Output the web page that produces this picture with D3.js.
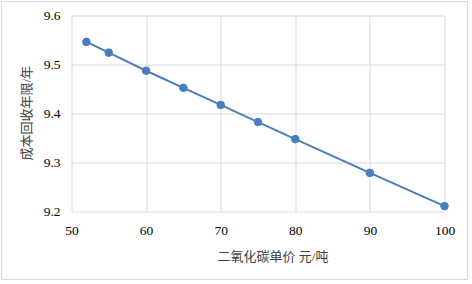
<!DOCTYPE html>
<html>
<head>
<meta charset="utf-8">
<script src="https://cdn.jsdelivr.net/npm/d3@7"></script>
<style>
  body { margin: 0; background: #fff; }
  svg { display: block; }
  svg text { font-family: "Liberation Serif", "Noto Sans CJK SC", serif; }
</style>
</head>
<body>
<svg id="chart" width="472" height="284"></svg>
<script>
// carbon price (元/吨) vs payback period (年)
const prices   = [52, 55, 60, 65, 70, 75, 80, 90, 100];
const payback  = [9.546, 9.524, 9.487, 9.452, 9.417, 9.382, 9.347, 9.278, 9.210];
const xTicks   = [50, 60, 70, 80, 90, 100];
const yTicks   = [9.2, 9.3, 9.4, 9.5, 9.6];
const xTitle   = '二氧化碳单价 元/吨';
const yTitle   = '成本回收年限/年';

const W = 472, H = 284;
const Mg = { top: 15.5, right: 27.5, bottom: 73, left: 71.5 };
const w = W - Mg.left - Mg.right, h = H - Mg.top - Mg.bottom;
const grid = '#d9d9d9', blue = '#4a7ebb', txt = '#404040';

const root = d3.select('#chart');
root.append('rect').attr('x', 1.5).attr('y', 1.5).attr('width', 466).attr('height', 278)
  .attr('fill', '#fff').attr('stroke', '#d9d9d9');

const svg = root.append('g').attr('transform', `translate(${Mg.left},${Mg.top})`);

const x = d3.scaleLinear().domain([50, 100]).range([0, w]);
const y = d3.scaleLinear().domain([9.2, 9.6]).range([h, 0]);

// gridlines
svg.append('g').selectAll('line').data(xTicks).join('line')
  .attr('x1', d => Math.round(x(d)) + .5).attr('x2', d => Math.round(x(d)) + .5)
  .attr('y1', 0).attr('y2', h).attr('stroke', grid).attr('stroke-width', 1);
svg.append('g').selectAll('line').data(yTicks).join('line')
  .attr('x1', 0).attr('x2', w)
  .attr('y1', d => Math.round(y(d)) + .5).attr('y2', d => Math.round(y(d)) + .5)
  .attr('stroke', grid).attr('stroke-width', 1);

// axes (labels only)
const xAxis = svg.append('g').attr('transform', `translate(0,${h})`)
  .call(d3.axisBottom(x).tickValues(xTicks).tickSize(0).tickPadding(14).tickFormat(d3.format('d')));
const yAxis = svg.append('g')
  .call(d3.axisLeft(y).tickValues(yTicks).tickSize(0).tickPadding(11).tickFormat(d3.format('.1f')));
[xAxis, yAxis].forEach(a => {
  a.attr('font-family', null).attr('font-size', 13.5);
  a.select('.domain').remove();
  a.selectAll('text').attr('fill', '#000');
});

// series
const pts = prices.map((p, i) => ({ p, v: payback[i] }));
svg.append('path').datum(pts)
  .attr('d', d3.line().x(d => x(d.p)).y(d => y(d.v)))
  .attr('fill', 'none').attr('stroke', blue).attr('stroke-width', 2);
svg.append('g').selectAll('circle').data(pts).join('circle')
  .attr('cx', d => x(d.p)).attr('cy', d => y(d.v)).attr('r', 3.8)
  .attr('fill', blue).attr('stroke', blue).attr('stroke-width', 1);

// titles
svg.append('text').attr('x', w / 2 + 15).attr('y', h + 50).attr('text-anchor', 'middle')
  .attr('font-size', 13).attr('fill', txt).text(xTitle);
svg.append('text').attr('transform', `translate(${27 - Mg.left + 4},${h / 2}) rotate(-90)`)
  .attr('text-anchor', 'middle').attr('font-size', 13)
  .attr('fill', txt).text(yTitle);
</script>
</body>
</html>
